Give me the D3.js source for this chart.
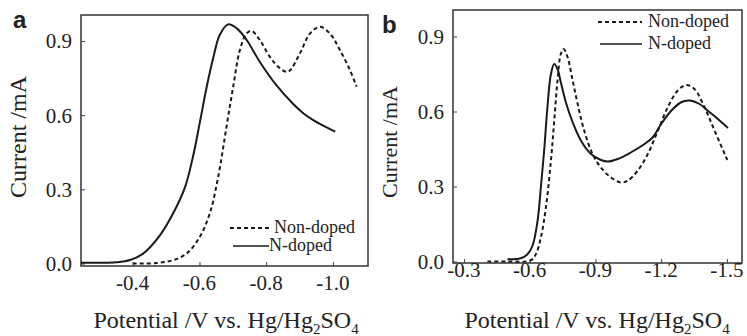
<!DOCTYPE html>
<html>
<head>
<meta charset="utf-8">
<script src="https://cdn.jsdelivr.net/npm/d3@7"></script>
<style>
  body { margin: 0; background: #fff; }
  svg { display: block; }
  text { font-family: "Liberation Serif", "Times New Roman", serif; fill: #222; }
</style>
</head>
<body>
<svg id="chart" width="747" height="336"></svg>
<script>
// panel a : potential (V) / current (mA)
let aNdopedX = [-0.245, -0.30, -0.35, -0.392, -0.432, -0.482, -0.522, -0.557, -0.581, -0.601, -0.621, -0.641, -0.661, -0.686, -0.711, -0.741, -0.781, -0.831, -0.881, -0.911, -0.941, -0.975, -1.007];
let aNdopedY = [0.003, 0.003, 0.005, 0.014, 0.041, 0.115, 0.205, 0.31, 0.435, 0.57, 0.71, 0.83, 0.925, 0.967, 0.952, 0.905, 0.815, 0.72, 0.645, 0.608, 0.58, 0.555, 0.533];
let aNonX = [-0.40, -0.472, -0.522, -0.562, -0.601, -0.631, -0.656, -0.681, -0.701, -0.721, -0.741, -0.756, -0.781, -0.811, -0.841, -0.865, -0.901, -0.931, -0.961, -0.991, -1.021, -1.051, -1.071];
let aNonY = [0.0, 0.002, 0.014, 0.041, 0.108, 0.203, 0.35, 0.553, 0.715, 0.863, 0.93, 0.941, 0.903, 0.836, 0.79, 0.775, 0.85, 0.93, 0.957, 0.93, 0.863, 0.782, 0.715];

// panel b
let bNdopedX = [-0.498, -0.559, -0.59, -0.613, -0.636, -0.651, -0.666, -0.681, -0.697, -0.712, -0.727, -0.742, -0.765, -0.796, -0.834, -0.88, -0.925, -0.956, -1.002, -1.063, -1.124, -1.162, -1.2, -1.246, -1.291, -1.33, -1.375, -1.413, -1.459, -1.505];
let bNdopedY = [0.009, 0.013, 0.029, 0.063, 0.163, 0.296, 0.443, 0.617, 0.75, 0.79, 0.77, 0.717, 0.637, 0.557, 0.483, 0.43, 0.406, 0.4, 0.41, 0.437, 0.47, 0.497, 0.55, 0.603, 0.637, 0.644, 0.63, 0.603, 0.57, 0.534];
let bNonX = [-0.407, -0.498, -0.605, -0.628, -0.651, -0.674, -0.697, -0.712, -0.727, -0.742, -0.755, -0.773, -0.796, -0.819, -0.849, -0.887, -0.925, -0.971, -1.017, -1.047, -1.093, -1.139, -1.185, -1.23, -1.276, -1.314, -1.352, -1.398, -1.444, -1.502];
let bNonY = [0.0, 0.0, 0.005, 0.029, 0.096, 0.216, 0.403, 0.563, 0.724, 0.83, 0.85, 0.817, 0.724, 0.63, 0.523, 0.43, 0.376, 0.336, 0.316, 0.323, 0.363, 0.43, 0.523, 0.617, 0.684, 0.706, 0.69, 0.617, 0.523, 0.406];

let yTicks = [0.0, 0.3, 0.6, 0.9];
let aXTicks = [-0.4, -0.6, -0.8, -1.0];
let bXTicks = [-0.3, -0.6, -0.9, -1.2, -1.5];
let legendNames = ["Non-doped", "N-doped"];

let svg = d3.select("#chart");

let zip = (xs, ys) => xs.map((x, i) => [x, ys[i]]);

function panel(cfg) {
    let x = d3.scaleLinear().domain(cfg.xDomain).range([cfg.left, cfg.right]);
    let y = d3.scaleLinear().domain(cfg.yDomain).range([cfg.bottom, cfg.top]);
    let g = svg.append("g");

    // ticks inward
    g.append("g")
        .attr("transform", "translate(0," + cfg.bottom + ")")
        .call(d3.axisTop(x).tickValues(cfg.xTicks).tickSize(4).tickFormat(""))
        .call(a => a.select(".domain").remove())
        .selectAll("line").attr("stroke", "#444");
    g.append("g")
        .attr("transform", "translate(" + cfg.left + ",0)")
        .call(d3.axisRight(y).tickValues(yTicks).tickSize(4).tickFormat(""))
        .call(a => a.select(".domain").remove())
        .selectAll("line").attr("stroke", "#444");

    g.append("rect")
        .attr("x", cfg.left).attr("y", cfg.top)
        .attr("width", cfg.right - cfg.left).attr("height", cfg.bottom - cfg.top)
        .attr("fill", "none").attr("stroke", "#333").attr("stroke-width", 1.5);

    g.selectAll(".ytl").data(yTicks).enter()
        .append("text")
        .attr("x", cfg.left - 9)
        .attr("y", d => y(d))
        .attr("dy", "0.35em")
        .attr("text-anchor", "end")
        .attr("font-size", 21)
        .text(d3.format(".1f"));

    g.selectAll(".xtl").data(cfg.xTicks).enter()
        .append("text")
        .attr("x", d => x(d))
        .attr("y", cfg.bottom + cfg.xLabelGap)
        .attr("text-anchor", "middle")
        .attr("font-size", 21)
        .text(d => d3.format(".1f")(d).replace("−", "-"));

    let line = d3.line().x(d => x(d[0])).y(d => y(d[1])).curve(d3.curveCatmullRom.alpha(0.5));

    g.append("path").datum(cfg.non)
        .attr("d", line).attr("fill", "none")
        .attr("stroke", "#1a1a1a").attr("stroke-width", 2)
        .attr("stroke-dasharray", "4,3");
    g.append("path").datum(cfg.ndoped)
        .attr("d", line).attr("fill", "none")
        .attr("stroke", "#1a1a1a").attr("stroke-width", 2);

    // legend
    let lg = g.append("g");
    cfg.legend.forEach((l, i) => {
        lg.append("line")
            .attr("x1", l.x1).attr("x2", l.x2).attr("y1", l.y).attr("y2", l.y)
            .attr("stroke", "#1a1a1a").attr("stroke-width", i == 0 ? 2 : 1.6)
            .attr("stroke-dasharray", i == 0 ? "4,3" : null);
        lg.append("text")
            .attr("x", l.tx).attr("y", l.y + 5)
            .attr("font-size", 18)
            .text(legendNames[i]);
    });

    // axis titles
    g.append("text")
        .attr("transform", "translate(" + cfg.yTitleX + "," + cfg.yTitleY + ") rotate(-90)")
        .attr("text-anchor", "middle")
        .attr("font-size", cfg.yTitleSize)
        .text("Current /mA");

    let t = g.append("text")
        .attr("x", cfg.xTitleX).attr("y", 328)
        .attr("text-anchor", "middle")
        .attr("font-size", 24);
    t.append("tspan").text("Potential /V vs. Hg/Hg");
    t.append("tspan").attr("font-size", 15).attr("dy", 6).text("2");
    t.append("tspan").attr("dy", -6).text("SO");
    t.append("tspan").attr("font-size", 15).attr("dy", 6).text("4");

    g.append("text")
        .attr("x", cfg.tagX).attr("y", cfg.tagY)
        .attr("font-weight", "bold")
        .attr("font-size", 24)
        .style("font-family", "'Liberation Sans', Arial, sans-serif")
        .text(cfg.tag);
}

panel({
    tag: "a", tagX: 13, tagY: 28,
    left: 81, right: 368, top: 15, bottom: 266,
    xDomain: [-0.245, -1.105], yDomain: [-0.01, 1.005],
    xTicks: aXTicks, xLabelGap: 24,
    ndoped: zip(aNdopedX, aNdopedY), non: zip(aNonX, aNonY),
    legend: [{x1: 230, x2: 272, y: 228, tx: 274}, {x1: 233, x2: 269, y: 246, tx: 269}],
    yTitleX: 26, yTitleY: 137, yTitleSize: 24,
    xTitleX: 226
});

panel({
    tag: "b", tagX: 382, tagY: 33,
    left: 453, right: 742, top: 10, bottom: 263,
    xDomain: [-0.25, -1.569], yDomain: [-0.006, 1.006],
    xTicks: bXTicks, xLabelGap: 14,
    ndoped: zip(bNdopedX, bNdopedY), non: zip(bNonX, bNonY),
    legend: [{x1: 598, x2: 642, y: 22, tx: 648}, {x1: 600, x2: 642, y: 44, tx: 648}],
    yTitleX: 397, yTitleY: 142, yTitleSize: 22,
    xTitleX: 597
});
</script>
</body>
</html>
